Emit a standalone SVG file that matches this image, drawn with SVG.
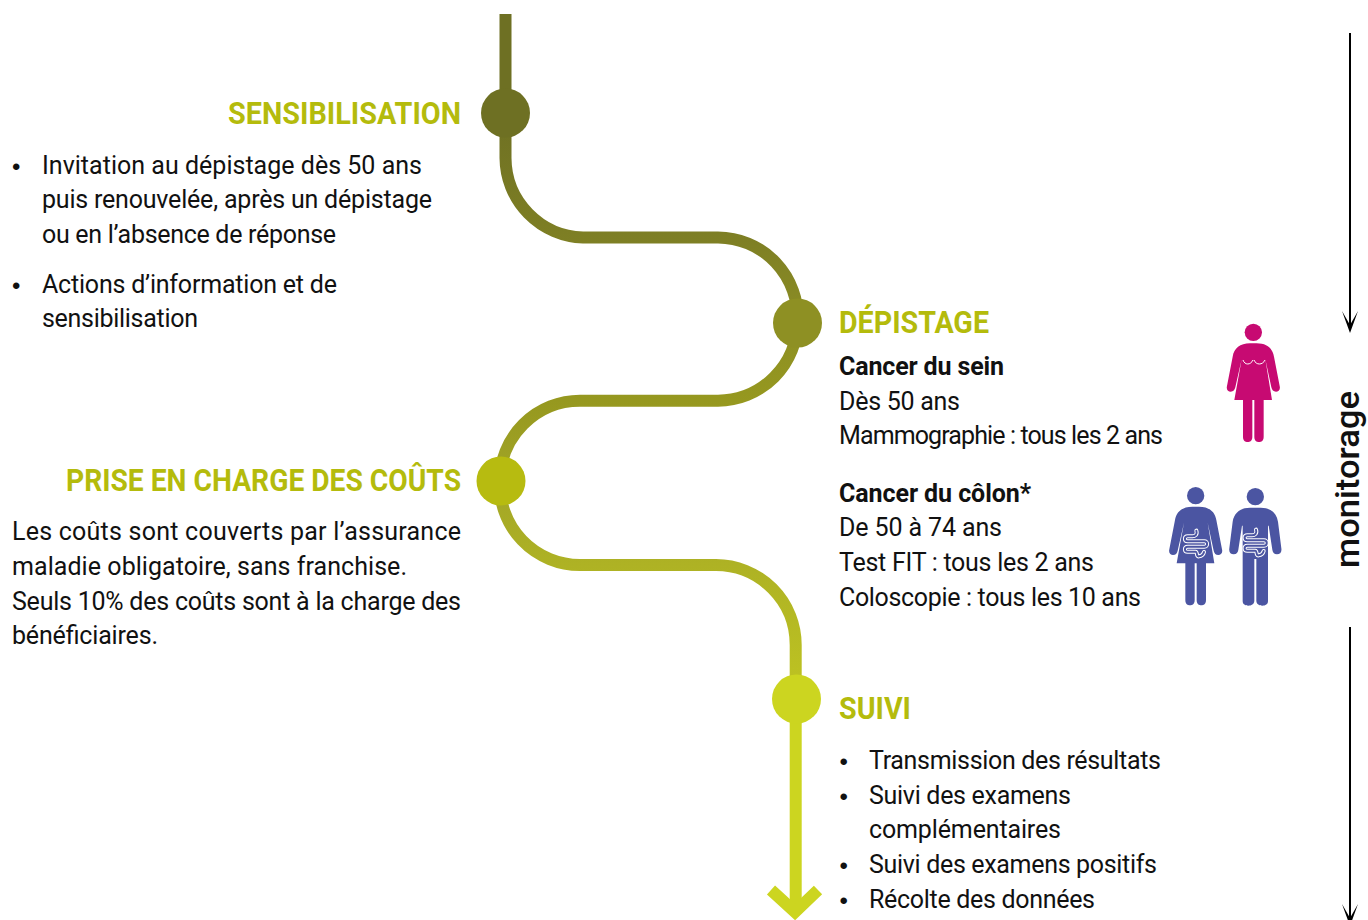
<svg xmlns="http://www.w3.org/2000/svg" xmlns:xlink="http://www.w3.org/1999/xlink" width="1368" height="920" viewBox="0 0 1368 920">
<style>
text{font-family:"Roboto","Liberation Sans",sans-serif;fill:#111}
.b{font-size:25px}
.bb{font-size:25px;font-weight:700}
.h{font-size:31px;font-weight:700;fill:#b4bb0c}
text.dot{font-family:"Liberation Sans",sans-serif;font-size:24px}
.w{fill:none;stroke:#fff;stroke-width:3}
.gut1{fill:none;stroke:#fff;stroke-width:12;stroke-linecap:round;stroke-linejoin:round}
.gut2{fill:none;stroke:#4b55a2;stroke-width:6;stroke-linecap:round;stroke-linejoin:round}
</style>
<defs>
<linearGradient id="g" gradientUnits="userSpaceOnUse" x1="0" y1="110" x2="0" y2="699">
<stop offset="0" stop-color="#6e7023"/>
<stop offset="0.221" stop-color="#7e7f24"/>
<stop offset="0.36" stop-color="#8c8e24"/>
<stop offset="0.494" stop-color="#96981f"/>
<stop offset="0.628" stop-color="#a2a527"/>
<stop offset="0.773" stop-color="#aeb224"/>
<stop offset="0.96" stop-color="#bcc122"/>
<stop offset="0.97" stop-color="#ccd520"/>
<stop offset="1" stop-color="#ccd520"/>
</linearGradient>
<path id="gut" d="M2 -38C6 -26 -2 -21 -10 -21H-24C-35 -21 -35 -6 -24 -6H26C37 -6 37 10 26 10H-24C-35 10 -35 25 -24 25H0C6 25 1 41 10 39C19 38 23 34 25 26"/>
<g id="woman">
<circle cx="310" cy="67" r="26"/>
<path d="M300 100H320C350 100 368 115 372 140L389 228C392 240 385 245 378 245C370 245 366 240 364 232L346 148L366 270H341V380C341 392 334 396 327 396C320 396 313 392 313 380V270H307V380C307 392 300 396 293 396C286 396 279 392 279 380V270H253L275 148L256 232C254 240 250 245 242 245C235 245 228 240 231 228L248 140C252 115 270 100 300 100Z"/>
</g>
</defs>

<g id="connectors">
<path d="M505.500 14V158A80 80 0 0 0 583 237.500H718A80 80 0 0 1 797.500 321A80 80 0 0 1 718 400.700H580A80 80 0 0 0 500 481A80 80 0 0 0 580 565H716A80 80 0 0 1 795.700 645V912" fill="none" stroke="url(#g)" stroke-width="12"/>
<path d="M771 890L795 912L818 890" fill="none" stroke="#ccd520" stroke-width="12"/>
<path d="M1350 33V328M1350 627V918" fill="none" stroke="#000" stroke-width="2"/>
<path d="M1342 311L1350 333L1358 311L1350 325Z"/>
<path d="M1342 904L1350 926L1358 904L1350 918Z"/>
</g>

<g id="node-sensibilisation">
<circle cx="505.500" cy="113" r="24.500" fill="#6e7023"/>
<text class="h" x="228" y="124" textLength="233" lengthAdjust="spacingAndGlyphs">SENSIBILISATION</text>
<text class="dot" x="12" y="175">•</text>
<text class="b" x="42" y="174" textLength="380">Invitation au dépistage dès  50 ans</text>
<text class="b" x="42" y="208" textLength="390">puis renouvelée, après un dépistage</text>
<text class="b" x="42" y="243" textLength="294">ou en l’absence de réponse</text>
<text class="dot" x="12" y="294">•</text>
<text class="b" x="42" y="293" textLength="295">Actions d’information et de</text>
<text class="b" x="42" y="327" textLength="156">sensibilisation</text>
</g>

<g id="node-depistage">
<circle cx="797.500" cy="323" r="24.500" fill="#8e9023"/>
<text class="h" x="839" y="333" textLength="150" lengthAdjust="spacingAndGlyphs">DÉPISTAGE</text>
<text class="bb" x="839" y="375" textLength="165">Cancer du sein</text>
<text class="b" x="839" y="410" textLength="121">Dès 50 ans</text>
<text class="b" x="839" y="444" textLength="324">Mammographie : tous les 2 ans</text>
<text class="bb" x="839" y="502" textLength="192">Cancer du côlon*</text>
<text class="b" x="839" y="536" textLength="163">De 50 à 74 ans</text>
<text class="b" x="839" y="571" textLength="255">Test FIT : tous les 2 ans</text>
<text class="b" x="839" y="606" textLength="302">Coloscopie : tous les 10 ans</text>
</g>

<g id="icon-woman-pink" transform="translate(1150 310) scale(.33333)">
<use xlink:href="#woman" href="#woman" fill="#c70a72"/>
<path class="w" d="M279 150C284 166 302 166 309 150M312 150C318 166 338 166 345 150"/>
</g>

<g id="icon-woman-blue" transform="translate(1150 475) scale(.33333)">
<use xlink:href="#woman" href="#woman" fill="#4b55a2" transform="translate(-173 -5)"/>
<use xlink:href="#gut" href="#gut" class="gut1" transform="translate(137 205)"/>
<use xlink:href="#gut" href="#gut" class="gut2" transform="translate(137 205)"/>
</g>

<g id="icon-man-blue" transform="translate(1150 475) scale(.33333)" fill="#4b55a2">
<circle cx="316" cy="65" r="26"/>
<path d="M300 98H332C362 98 380 115 384 140L394 220C396 232 390 238 381 238C372 238 368 232 367 224L356 152L354 152V378C354 388 346 392 337 392C328 392 320 388 319 378V252H313V378C312 388 304 392 295 392C286 392 278 388 278 378V152L276 152L265 224C264 232 260 238 251 238C242 238 236 232 238 220L248 140C252 115 270 98 300 98Z"/>
<use xlink:href="#gut" href="#gut" class="gut1" transform="translate(316 202)"/>
<use xlink:href="#gut" href="#gut" class="gut2" transform="translate(316 202)"/>
</g>

<g id="node-prise-en-charge">
<circle cx="501" cy="481" r="24.500" fill="#b7bb10"/>
<text class="h" x="66" y="491" textLength="395" lengthAdjust="spacingAndGlyphs">PRISE EN CHARGE DES COÛTS</text>
<text class="b" x="12" y="540" textLength="449">Les coûts sont couverts par l’assurance</text>
<text class="b" x="12" y="575" textLength="395">maladie obligatoire, sans franchise.</text>
<text class="b" x="12" y="610" textLength="449">Seuls 10% des coûts sont à la charge des</text>
<text class="b" x="12" y="644" textLength="146">bénéficiaires.</text>
</g>

<g id="node-suivi">
<circle cx="796.500" cy="699" r="24.500" fill="#ccd520"/>
<text class="h" x="839" y="719" textLength="72" lengthAdjust="spacingAndGlyphs">SUIVI</text>
<text class="dot" x="839.500" y="770">•</text>
<text class="b" x="869" y="769" textLength="292">Transmission des résultats</text>
<text class="dot" x="839.500" y="805">•</text>
<text class="b" x="869" y="804" textLength="202">Suivi des examens</text>
<text class="b" x="869" y="838" textLength="192">complémentaires</text>
<text class="dot" x="839.500" y="874">•</text>
<text class="b" x="869" y="873" textLength="288">Suivi des examens positifs</text>
<text class="dot" x="839.500" y="909">•</text>
<text class="b" x="869" y="908" textLength="226">Récolte des données</text>
</g>

<g id="label-monitorage">
<text transform="translate(1359 568) rotate(-90)" font-size="33" font-weight="500" textLength="177" lengthAdjust="spacingAndGlyphs">monitorage</text>
</g>
</svg>
